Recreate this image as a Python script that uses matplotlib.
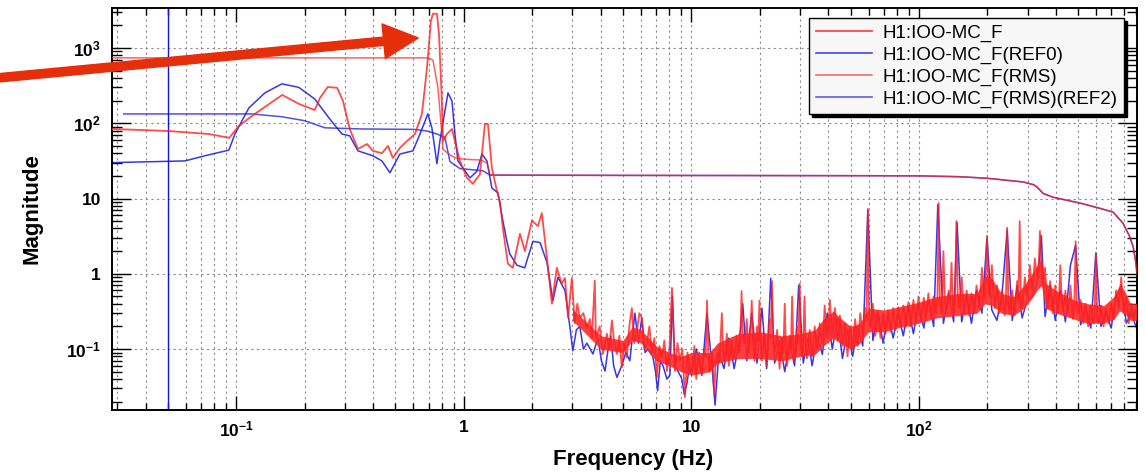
import matplotlib.pyplot as plt
import numpy as np
from matplotlib.ticker import FixedLocator, NullFormatter

plt.rcParams['font.family'] = ['Liberation Sans', 'DejaVu Sans']
plt.rcParams['mathtext.fontset'] = 'custom'
plt.rcParams['mathtext.rm'] = 'Liberation Sans:bold'
plt.rcParams['mathtext.it'] = 'Liberation Sans:bold'
plt.rcParams['mathtext.bf'] = 'Liberation Sans:bold'

labels = ['H1:IOO-MC_F', 'H1:IOO-MC_F(REF0)', 'H1:IOO-MC_F(RMS)', 'H1:IOO-MC_F(RMS)(REF2)']

# spectrum, current trace (Hz, magnitude) -- below 10 Hz
asd_low = [(0.0284, 84), (0.05, 79), (0.0757, 72), (0.093, 64), (0.1026, 92), (0.117, 125), (0.159, 238),
           (0.188, 181), (0.221, 150), (0.233, 217), (0.252, 303), (0.277, 296), (0.294, 198), (0.315, 84),
           (0.342, 45.5), (0.375, 53), (0.398, 43), (0.436, 40), (0.464, 50), (0.487, 34.6), (0.523, 47),
           (0.562, 58), (0.609, 72), (0.654, 133), (0.688, 540), (0.716, 2300), (0.731, 2850), (0.761, 2850),
           (0.777, 1530), (0.80, 198), (0.809, 58), (0.842, 72), (0.886, 84), (0.913, 58), (0.96, 31.7),
           (1.031, 18.8), (1.095, 15.7), (1.176, 21), (1.237, 98), (1.275, 98), (1.327, 25.5), (1.397, 12.6),
           (1.44, 9), (1.484, 4), (1.56, 1.36), (1.64, 1.2), (1.763, 3.4), (1.853, 2.0), (1.99, 5.1),
           (2.115, 4.3), (2.20, 6.4), (2.316, 1.63), (2.436, 0.40), (2.56, 1.2), (2.69, 0.74), (2.78, 0.88),
           (2.87, 0.26), (2.98, 0.88), (3.07, 0.22), (3.15, 0.4), (3.23, 0.26), (3.35, 0.3), (3.47, 0.19),
           (3.58, 0.25), (3.65, 0.14), (3.76, 0.81), (3.80, 0.14), (3.95, 0.2), (4.08, 0.086), (4.25, 0.16),
           (4.35, 0.1), (4.47, 0.24), (4.58, 0.12), (4.70, 0.086), (4.82, 0.15), (4.94, 0.057), (5.07, 0.12),
           (5.20, 0.077), (5.33, 0.2), (5.47, 0.35), (5.6, 0.12), (5.76, 0.175), (5.9, 0.3), (6.05, 0.26),
           (6.2, 0.1), (6.37, 0.117), (6.53, 0.2), (6.70, 0.086), (6.87, 0.14), (7.05, 0.042), (7.23, 0.11),
           (7.42, 0.077), (7.6, 0.13), (7.80, 0.051), (8.0, 0.1), (8.21, 0.65), (8.46, 0.051), (8.68, 0.12),
           (8.90, 0.07), (9.12, 0.1), (9.36, 0.023), (9.6, 0.09), (9.85, 0.051)]
# above 10 Hz: band extremes and lines
asd_high = [(10.0, 0.05), (10.3, 0.11), (10.5, 0.04), (10.8, 0.09), (11.1, 0.045), (11.4, 0.10), (11.7, 0.44),
            (12.0, 0.05), (12.3, 0.09), (12.6, 0.025), (12.9, 0.08), (13.2, 0.065), (13.6, 0.3), (13.9, 0.07),
            (14.3, 0.16), (14.6, 0.06), (15.0, 0.13), (15.4, 0.075), (15.8, 0.15), (16.2, 0.09), (16.6, 0.59),
            (17.0, 0.12), (17.5, 0.25), (17.9, 0.09), (18.4, 0.44), (18.9, 0.07), (19.4, 0.2), (19.9, 0.44),
            (20.4, 0.07), (20.9, 0.16), (21.4, 0.06), (22.0, 0.25), (22.6, 0.8), (23.2, 0.09), (23.8, 0.18),
            (24.4, 0.055), (25.0, 0.14), (25.7, 0.4), (26.3, 0.06), (27.0, 0.15), (27.7, 0.5), (28.4, 0.07),
            (29.1, 0.2), (29.9, 0.74), (30.6, 0.08), (31.4, 0.5), (32.2, 0.075), (33.1, 0.18), (33.9, 0.08),
            (34.8, 0.2), (35.7, 0.1), (36.6, 0.22), (37.6, 0.12), (38.5, 0.38), (39.5, 0.14), (40.6, 0.45),
            (41.6, 0.15), (42.7, 0.35), (43.8, 0.13), (44.9, 0.28), (46.1, 0.11), (47.3, 0.22), (48.5, 0.08),
            (49.8, 0.2), (51.1, 0.1), (52.4, 0.25), (53.8, 0.11), (55.2, 0.3), (56.6, 0.14), (58.1, 0.35),
            (59.6, 7.3), (61.1, 0.2), (62.7, 0.4), (64.3, 0.15), (66.0, 0.32), (67.7, 0.14), (69.5, 0.3),
            (71.3, 0.16), (73.1, 0.33), (75.0, 0.17), (77.0, 0.35), (79.0, 0.18), (81.0, 0.36), (83.1, 0.2),
            (85.3, 0.38), (87.5, 0.2), (89.8, 0.42), (92.1, 0.2), (94.5, 0.45), (97.0, 0.22), (99.5, 0.5),
            (102, 0.24), (105, 0.48), (107, 0.25), (110, 0.55), (113, 0.26), (116, 0.5), (119, 0.3), (122, 8.7),
            (125, 0.3), (128, 2.0), (132, 0.3), (135, 0.6), (139, 1.4), (142, 0.3), (146, 5.0), (150, 0.35),
            (154, 0.9), (158, 0.3), (162, 0.6), (166, 0.28), (170, 0.55), (175, 0.3), (179, 0.7), (184, 0.35),
            (189, 1.2), (194, 0.45), (199, 3.2), (204, 0.5), (209, 1.3), (215, 0.35), (220, 0.7), (226, 0.3),
            (232, 0.6), (238, 0.28), (244, 4.1), (250, 0.3), (257, 0.6), (263, 0.28), (270, 0.8), (277, 5.0),
            (284, 0.35), (292, 0.9), (299, 0.5), (307, 1.3), (315, 0.6), (323, 1.6), (332, 0.9), (340, 3.7),
            (349, 0.7), (358, 1.2), (368, 0.35), (377, 0.8), (387, 0.3), (397, 0.7), (407, 0.3), (418, 1.3),
            (429, 0.32), (440, 0.6), (452, 0.3), (463, 0.7), (475, 0.25), (488, 2.7), (500, 0.3), (513, 0.45),
            (527, 0.22), (540, 0.4), (554, 0.2), (569, 0.38), (584, 0.22), (599, 1.84), (614, 0.22),
            (630, 0.38), (647, 0.2), (664, 0.35), (681, 0.22), (699, 0.4), (717, 0.25), (735, 0.6),
            (755, 0.35), (774, 0.9), (794, 0.3), (815, 0.5), (836, 0.22), (858, 0.4), (880, 0.25), (903, 0.35)]
# above 10 Hz: in-between bins near the middle of the band
asd_mid = [(10.15, 0.07), (10.4, 0.06), (10.65, 0.075), (10.95, 0.06), (11.25, 0.07), (11.55, 0.08),
           (11.85, 0.1), (12.15, 0.065), (12.45, 0.05), (12.75, 0.06), (13.05, 0.09), (13.4, 0.12),
           (13.75, 0.1), (14.1, 0.09), (14.45, 0.1), (14.8, 0.09), (15.2, 0.1), (15.6, 0.1), (16.0, 0.11),
           (16.4, 0.13), (16.8, 0.15), (17.25, 0.14), (17.7, 0.13), (18.15, 0.15), (18.65, 0.12), (19.15, 0.11),
           (19.65, 0.13), (20.15, 0.12), (20.65, 0.1), (21.15, 0.1), (21.7, 0.11), (22.3, 0.14), (22.9, 0.12),
           (23.5, 0.11), (24.1, 0.09), (24.7, 0.1), (25.35, 0.09), (26.0, 0.1), (26.65, 0.09), (27.35, 0.1),
           (28.05, 0.11), (28.75, 0.1), (29.5, 0.12), (30.25, 0.11), (31.0, 0.12), (31.8, 0.1), (32.65, 0.11),
           (33.5, 0.12), (34.35, 0.12), (35.25, 0.13), (36.15, 0.14), (37.1, 0.15), (38.05, 0.18), (39.0, 0.2),
           (40.05, 0.22), (41.1, 0.24), (42.15, 0.22), (43.25, 0.2), (44.35, 0.18), (45.5, 0.17), (46.7, 0.15),
           (47.9, 0.14), (49.15, 0.13), (50.45, 0.14), (51.75, 0.15), (53.1, 0.16), (54.5, 0.18), (55.9, 0.2),
           (57.35, 0.22), (58.85, 0.24), (60.35, 0.3), (61.9, 0.26), (63.5, 0.24), (65.15, 0.22), (66.85, 0.22),
           (68.6, 0.21), (70.4, 0.22), (72.2, 0.23), (74.05, 0.24), (76.0, 0.24), (78.0, 0.25), (80.0, 0.26),
           (82.05, 0.27), (84.2, 0.28), (86.4, 0.28), (88.65, 0.29), (90.95, 0.3), (93.3, 0.31), (95.75, 0.32),
           (98.25, 0.33), (100.7, 0.34), (103.5, 0.35), (106, 0.36), (108.5, 0.36), (111.5, 0.37),
           (114.5, 0.38), (117.5, 0.38), (120.5, 0.45), (123.5, 0.42), (126.5, 0.4), (130, 0.42), (133.5, 0.42),
           (137, 0.45), (140.5, 0.44), (144, 0.5), (148, 0.5), (152, 0.48), (156, 0.46), (160, 0.44),
           (164, 0.42), (168, 0.4), (172.5, 0.42), (177, 0.45), (181.5, 0.5), (186.5, 0.6), (191.5, 0.7),
           (196.5, 0.85), (201.5, 0.8), (206.5, 0.7), (212, 0.6), (217.5, 0.5), (223, 0.45), (229, 0.42),
           (235, 0.4), (241, 0.42), (247, 0.4), (253.5, 0.42), (260, 0.4), (266.5, 0.42), (273.5, 0.45),
           (280.5, 0.5), (288, 0.55), (295.5, 0.6), (303, 0.7), (311, 0.8), (319, 0.95), (327.5, 1.1),
           (336, 1.3), (344.5, 1.4), (353.5, 1.0), (363, 0.6), (372.5, 0.5), (382, 0.48), (392, 0.45),
           (402, 0.45), (412.5, 0.48), (423.5, 0.45), (434.5, 0.42), (446, 0.4), (457.5, 0.42), (469, 0.4),
           (481.5, 0.38), (494, 0.36), (506.5, 0.34), (520, 0.32), (533.5, 0.31), (547, 0.3), (561.5, 0.29),
           (576.5, 0.28), (591.5, 0.28), (606.5, 0.28), (622, 0.27), (638.5, 0.27), (655.5, 0.28),
           (672.5, 0.29), (690, 0.3), (708, 0.33), (726, 0.4), (745, 0.5), (764.5, 0.55), (784, 0.5),
           (804.5, 0.4), (825.5, 0.33), (847, 0.3), (869, 0.3), (891.5, 0.3)]
# dense core of the noise band (where the bins pile up into solid red)
core_freq = [3.0, 3.5, 4.0, 5.0, 5.5, 6.0, 7.0, 8.0, 9.0, 10, 12, 13, 16, 20, 25, 30, 35, 38, 42, 45, 50,
             55, 60, 70, 80, 100, 120, 150, 180, 195, 210, 230, 260, 290, 310, 330, 345, 360, 400, 480, 550,
             650, 720, 760, 800, 850, 903]
core_lo = [0.24, 0.15, 0.1, 0.09, 0.13, 0.12, 0.07, 0.06, 0.05, 0.045, 0.05, 0.065, 0.075, 0.075, 0.07,
           0.08, 0.085, 0.11, 0.14, 0.12, 0.1, 0.12, 0.17, 0.17, 0.19, 0.22, 0.26, 0.28, 0.3, 0.4, 0.38, 0.3,
           0.28, 0.35, 0.45, 0.6, 0.7, 0.35, 0.3, 0.25, 0.22, 0.22, 0.25, 0.32, 0.3, 0.24, 0.24]
core_hi = [0.34, 0.22, 0.15, 0.13, 0.2, 0.18, 0.11, 0.09, 0.08, 0.09, 0.09, 0.12, 0.16, 0.17, 0.15, 0.16,
           0.18, 0.25, 0.32, 0.26, 0.2, 0.22, 0.35, 0.33, 0.36, 0.42, 0.5, 0.55, 0.55, 0.95, 0.85, 0.55, 0.5,
           0.7, 0.95, 1.3, 1.6, 0.75, 0.6, 0.45, 0.4, 0.38, 0.5, 0.7, 0.6, 0.4, 0.4]

# spectrum, reference REF0
ref_low = [(0.0284, 30), (0.0594, 31.6), (0.0728, 37), (0.0927, 44), (0.0985, 72), (0.1135, 160), (0.1334, 253),
           (0.1585, 334), (0.188, 300), (0.221, 210), (0.255, 118), (0.291, 72), (0.315, 68), (0.342, 43),
           (0.398, 37), (0.436, 31.6), (0.473, 22), (0.523, 39), (0.597, 43), (0.641, 72), (0.694, 133),
           (0.723, 87), (0.761, 29), (0.784, 58), (0.825, 146), (0.851, 253), (0.886, 198), (0.913, 72),
           (0.941, 31.6), (0.99, 25.5), (1.063, 18.8), (1.14, 23), (1.20, 39), (1.262, 31.6), (1.327, 13.8),
           (1.41, 11.9), (1.484, 5), (1.545, 2.7), (1.59, 1.84), (1.71, 1.3), (1.85, 1.2), (2.01, 2.7),
           (2.16, 2.6), (2.32, 1.4), (2.46, 0.44), (2.59, 0.9), (2.78, 0.6), (2.92, 0.2), (3.01, 0.095),
           (3.12, 0.18), (3.23, 0.2), (3.35, 0.1), (3.47, 0.12), (3.69, 0.086), (3.88, 0.14), (4.02, 0.07),
           (4.17, 0.051), (4.3, 0.1), (4.42, 0.15), (4.55, 0.06), (4.70, 0.042), (4.94, 0.06), (5.15, 0.09),
           (5.36, 0.07), (5.64, 0.3), (5.85, 0.12), (6.05, 0.26), (6.25, 0.09), (6.43, 0.1), (6.76, 0.08),
           (6.95, 0.05), (7.1, 0.028), (7.3, 0.07), (7.5, 0.06), (7.8, 0.04), (8.04, 0.045), (8.25, 0.5),
           (8.46, 0.06), (8.75, 0.05), (9.07, 0.04), (9.3, 0.025), (9.54, 0.034), (9.8, 0.06)]
ref_high = [(10.0, 0.045), (10.5, 0.1), (11.1, 0.045), (11.7, 0.3), (12.3, 0.06), (12.7, 0.018), (13.2, 0.09),
            (13.9, 0.055), (14.6, 0.14), (15.4, 0.055), (16.2, 0.12), (16.8, 0.4), (17.5, 0.07), (18.4, 0.3),
            (19.4, 0.065), (20.4, 0.35), (21.4, 0.055), (22.3, 0.87), (23.2, 0.065), (24.4, 0.13), (25.7, 0.05),
            (27.0, 0.12), (28.4, 0.06), (29.6, 0.7), (31.0, 0.065), (32.5, 0.14), (33.9, 0.06), (35.7, 0.15),
            (37.6, 0.085), (39.5, 0.3), (41.6, 0.1), (43.8, 0.25), (46.1, 0.075), (48.5, 0.18), (51.1, 0.08),
            (53.8, 0.2), (56.6, 0.11), (59.6, 7.0), (62.7, 0.13), (66.0, 0.3), (69.5, 0.12), (73.1, 0.28),
            (77.0, 0.14), (81.0, 0.3), (85.3, 0.15), (89.8, 0.35), (94.5, 0.16), (99.5, 0.4), (105, 0.19),
            (110, 0.45), (116, 0.2), (121, 8.3), (128, 0.22), (135, 0.55), (142, 0.23), (147, 4.8), (154, 0.23),
            (162, 0.5), (170, 0.22), (179, 0.6), (189, 0.3), (199, 3.0), (209, 0.33), (220, 0.24), (232, 0.55),
            (244, 3.8), (257, 0.24), (270, 0.7), (284, 0.26), (299, 0.45), (315, 0.5), (332, 0.8), (345, 3.2),
            (358, 0.27), (377, 0.7), (397, 0.24), (418, 0.6), (440, 0.23), (463, 1.3), (488, 2.4), (513, 0.21),
            (540, 0.35), (569, 0.19), (599, 1.9), (630, 0.2), (664, 0.3), (699, 0.19), (735, 0.5), (774, 0.7),
            (815, 0.22), (858, 0.3), (903, 0.19)]

# cumulative RMS, current and REF2
rms_freq = [0.0284, 0.695, 0.731, 0.768, 0.80, 0.809, 0.868, 0.932, 1.063, 1.176, 1.262, 1.30, 1.327, 5, 20,
            60, 100, 150, 199, 287, 320, 330, 351, 388, 510, 625, 713, 788, 840, 873, 895, 908]
rms_mag = [740, 740, 690, 302, 74, 45, 38, 34, 33, 32.5, 30, 21, 20.4, 20.3, 20.2, 20.1, 20.0, 19.5, 18.6,
           16.6, 15.2, 14.2, 11.7, 10.4, 8.7, 7.4, 6.6, 4.7, 3.2, 2.3, 1.5, 1.0]
rms_ref_freq = [0.032, 0.117, 0.1585, 0.2, 0.245, 0.356, 0.6, 0.688, 0.761, 0.825, 0.868, 0.96, 1.21, 1.30,
                5, 20, 60, 100, 150, 199, 287, 320, 330, 351, 388, 510, 625, 713, 788, 840, 873, 895, 908]
rms_ref_mag = [133, 133, 122, 108, 87, 84, 83, 79, 72, 65, 31, 25, 23.4, 20.5, 20.3, 20.2, 20.1, 20.0, 19.5,
               18.6, 16.6, 15.2, 14.2, 11.7, 10.4, 8.7, 7.4, 6.6, 4.7, 3.2, 2.3, 1.5, 1.0]

cursor_freq = 0.05
peak_freq, peak_mag = 0.63, 1360   # arrow tip

x_ticks = [0.1, 1, 10, 100]
x_ticklabels = [r'$10^{-1}$', '1', '10', r'$10^{2}$']
y_ticks = [0.1, 1, 10, 100, 1000]
y_ticklabels = [r'$10^{-1}$', '1', '10', r'$10^{2}$', r'$10^{3}$']

red = '#ff1e1e'
blue = '#1414e6'

fig = plt.figure(figsize=(11.45, 4.74), dpi=100)
ax = fig.add_axes([112/1145, 64/474, 1025/1145, 402/474])

asd = sorted(asd_low + asd_high + asd_mid)
ref = ref_low + ref_high

l_ref, = ax.plot([p[0] for p in ref], [p[1] for p in ref], color=blue, lw=1.1, alpha=0.85, zorder=2)
ax.fill_between(core_freq, core_lo, core_hi, color='#ff2a2a', lw=0, alpha=0.9, zorder=3)
l_asd, = ax.plot([p[0] for p in asd], [p[1] for p in asd], color=red, lw=1.3, alpha=0.8, zorder=3)
l_rms_ref, = ax.plot(rms_ref_freq, rms_ref_mag, color=blue, lw=1.1, alpha=0.75, zorder=2)
l_rms, = ax.plot(rms_freq, rms_mag, color=red, lw=1.1, alpha=0.7, zorder=3)
ax.axvline(cursor_freq, color=blue, lw=1.0, zorder=2)

ax.set_xscale('log')
ax.set_yscale('log')
ax.set_xlim(0.0284, 908)
ax.set_ylim(0.0155, 3400)

ax.xaxis.set_major_locator(FixedLocator(x_ticks))
ax.xaxis.set_ticklabels(x_ticklabels)
ax.yaxis.set_major_locator(FixedLocator(y_ticks))
ax.yaxis.set_ticklabels(y_ticklabels)
xminor = [m * 10.0**e for e in range(-2, 3) for m in range(2, 10)]
yminor = [m * 10.0**e for e in range(-2, 4) for m in range(2, 10)]
ax.xaxis.set_minor_locator(FixedLocator(xminor))
ax.yaxis.set_minor_locator(FixedLocator(yminor))
ax.xaxis.set_minor_formatter(NullFormatter())
ax.yaxis.set_minor_formatter(NullFormatter())

ax.tick_params(which='both', direction='in', top=True, right=True, width=1.0, labelsize=12.5)
ax.tick_params(axis='x', which='major', length=10, pad=7)
ax.tick_params(axis='x', which='minor', length=5)
ax.tick_params(axis='y', which='major', length=14, pad=8)
ax.tick_params(axis='y', which='minor', length=7)
for lab in ax.get_xticklabels() + ax.get_yticklabels():
    lab.set_fontweight('bold')
for s in ax.spines.values():
    s.set_linewidth(1.4)

ax.grid(which='major', axis='both', color='#8c8c8c', lw=0.8, ls=(0, (2, 3)))
ax.grid(which='minor', axis='x', color='#8c8c8c', lw=0.8, ls=(0, (2, 3)))
ax.set_axisbelow(True)

ax.set_xlabel('Frequency (Hz)', fontsize=16, fontweight='bold')
ax.set_ylabel('Magnitude', fontsize=16, fontweight='bold')
ax.xaxis.set_label_coords(0.508, -0.098)
ax.yaxis.set_label_coords(-0.068, 0.5)

leg = ax.legend([l_asd, l_ref, l_rms, l_rms_ref], labels, loc='upper right', borderaxespad=0,
                bbox_to_anchor=(1124/1145, 1 - 18/474), bbox_transform=fig.transFigure,
                fontsize=13.5, handlelength=3.0, handletextpad=0.55, labelspacing=0.25, borderpad=0.35,
                fancybox=False, framealpha=1, facecolor='#f7f7f7', edgecolor='black',
                shadow={'color': 'black', 'alpha': 1})
leg.get_frame().set_linewidth(1.0)
leg.set_zorder(10)

ax.annotate('', xy=(peak_freq, peak_mag), xycoords='data', xytext=(-0.12, 0.824), textcoords='axes fraction',
            arrowprops=dict(arrowstyle='simple,head_length=1.25,head_width=1.25,tail_width=0.3',
                            color='#e62e0a', shrinkA=0, shrinkB=0, mutation_scale=20),
            annotation_clip=False, zorder=11)

fig.savefig('out.png', dpi=100)
